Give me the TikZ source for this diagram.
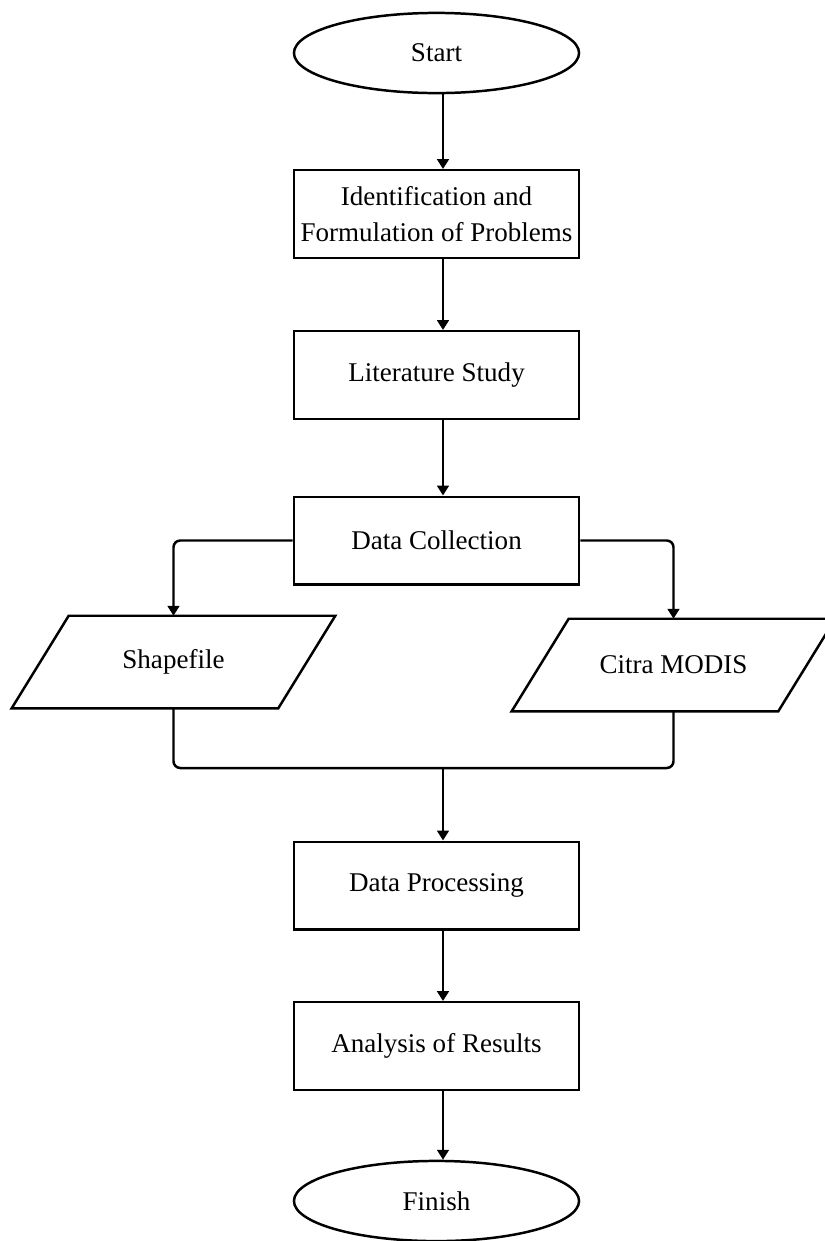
\documentclass[tikz,border=0pt]{standalone}
\usepackage{fontspec}
\setmainfont{Liberation Serif}
\usetikzlibrary{shapes.geometric,arrows.meta}

\begin{document}
\begin{tikzpicture}[x=0.0156cm,y=-0.0156cm,line width=1.1pt,
  every node/.style={font=\fontsize{12pt}{16pt}\selectfont},
  process/.style={draw,rectangle,minimum width=4.446cm,minimum height=1.365cm,align=center,inner sep=0pt},
  terminal/.style={draw,ellipse,minimum width=4.446cm,minimum height=1.25cm,inner sep=0pt},
  data/.style={rectangle,minimum width=5.008cm,minimum height=1.404cm,inner sep=0pt},
  flow/.style={-{Triangle[length=4.4pt,width=5.2pt]}}]
  \def\cx{436.5};
  \def\sl{0.889cm};
  \useasboundingbox (0,0) rectangle (824,1241);
  \node[terminal] (start) at (\cx,53) {Start};
  \node[process] (ident) at (\cx,214) {Identification and\\Formulation of Problems};
  \node[process] (lit) at (\cx,375) {Literature Study};
  \node[process] (dc) at (\cx,540.5) {Data Collection};
  \node[data] (shp) at (173.5,662) {Shapefile};
  \node[data] (modis) at (673.5,665) {Citra MODIS};
  \coordinate (join) at (443,768);
  \node[process] (dp) at (\cx,885.5) {Data Processing};
  \node[process] (ana) at (\cx,1046) {Analysis of Results};
  \node[terminal] (fin) at (\cx,1201) {Finish};
  %parallelograms
  \draw ([xshift=\sl]shp.north west)--(shp.north east)--([xshift=-\sl]shp.south east)--(shp.south west)--cycle;
  \draw ([xshift=\sl]modis.north west)--(modis.north east)--([xshift=-\sl]modis.south east)--(modis.south west)--cycle;
  %arrows
  \draw[flow] (start.south -| join)--(ident.north -| join);
  \draw[flow] (ident.south -| join)--(lit.north -| join);
  \draw[flow] (lit.south -| join)--(dc.north -| join);
  \draw[flow,rounded corners=3pt] (dc.west) -| (shp.north);
  \draw[flow,rounded corners=3pt] (dc.east) -| (modis.north);
  \draw[rounded corners=3pt] (shp.south) |- (join) -| (modis.south);
  \draw[flow] (join)--(dp.north -| join);
  \draw[flow] (dp.south -| join)--(ana.north -| join);
  \draw[flow] (ana.south -| join)--(fin.north -| join);
\end{tikzpicture}
\end{document}
